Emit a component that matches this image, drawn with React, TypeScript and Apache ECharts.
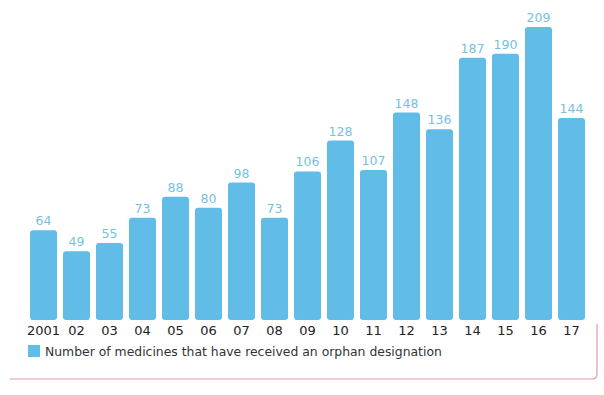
import React, { useEffect, useRef } from "react";
import * as echarts from "echarts";

const categories = ["2001", "02", "03", "04", "05", "06", "07", "08", "09", "10", "11", "12", "13", "14", "15", "16", "17"];
const values = [64, 49, 55, 73, 88, 80, 98, 73, 106, 128, 107, 148, 136, 187, 190, 209, 144];
const seriesName = "Number of medicines that have received an orphan designation";

const BAR = "#62bce8";
const LABEL = "#78bfe0";
const FONT = "DejaVu Sans, Verdana, sans-serif";

echarts.graphic.registerShape(
  "frameLine",
  echarts.graphic.extendPath("M10 379 L592 379 Q597 379 597 374 L597 324", {})
);

export default function App() {
  const ref = useRef<HTMLDivElement>(null);
  useEffect(() => {
    const chart = echarts.init(ref.current!, undefined, { renderer: "svg" });
    chart.setOption({
      animation: false,
      backgroundColor: "#ffffff",
      grid: { left: 27, right: 16, top: 27, bottom: 75 },
      legend: {
        show: true,
        left: 28,
        top: 345,
        padding: 0,
        itemWidth: 12,
        itemHeight: 12,
        icon: "rect",
        itemGap: 5,
        textStyle: { fontFamily: FONT, fontSize: 12.4, color: "#333", padding: [0, 0, 0, 0] },
        data: [seriesName],
      },
      xAxis: {
        type: "category",
        data: categories,
        axisLine: { show: false },
        axisTick: { show: false },
        axisLabel: { interval: 0, fontFamily: FONT, fontSize: 13, color: "#222", margin: 4 },
      },
      yAxis: {
        type: "value",
        min: 0,
        max: 209,
        show: false,
        splitLine: { show: false },
      },
      series: [
        {
          name: seriesName,
          type: "bar",
          data: values,
          barWidth: 27,
          itemStyle: { color: BAR, borderRadius: 3 },
          label: {
            show: true,
            position: "top",
            distance: 3,
            fontFamily: FONT,
            fontSize: 12.5,
            color: LABEL,
          },
        },
      ],
      graphic: [
        {
          type: "frameLine",
          x: 0,
          y: 0,
          style: { fill: "none", stroke: "#e39aa2", lineWidth: 1.2 },
          silent: true,
        },
      ],
    });
    return () => chart.dispose();
  }, []);
  return <div ref={ref} style={{ width: 604, height: 395, position: "absolute", left: 0, top: 0 }} />;
}
